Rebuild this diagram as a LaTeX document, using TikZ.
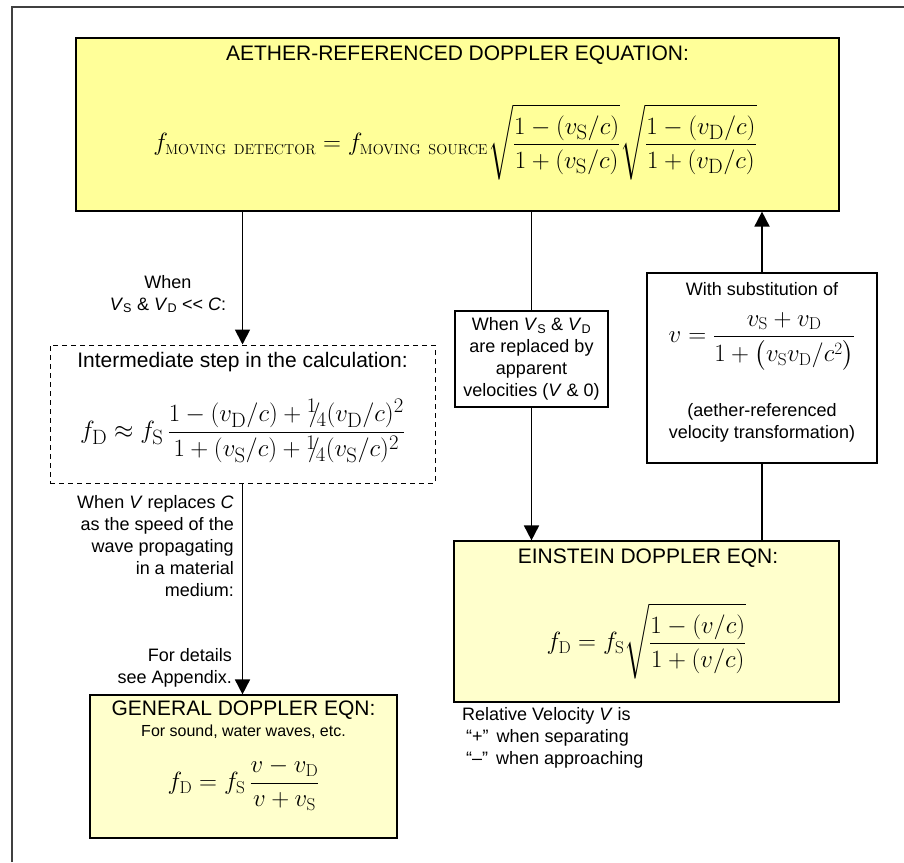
\documentclass[tikz,border=0pt]{standalone}
\usepackage{amsmath}
\usepackage[no-math]{fontspec}
\setmainfont{Liberation Sans}
\usepackage{xcolor}
\usepackage{tikz}
\usetikzlibrary{arrows.meta,positioning}
\definecolor{aetherfill}{HTML}{FFFF99}
\definecolor{eqnfill}{HTML}{FFFFCC}
\definecolor{framegray}{HTML}{404040}

\begin{document}
\begin{tikzpicture}[x=1pt, y=-1pt, font=\fontsize{18}{22}\selectfont,
 box/.style={draw=black,line width=1.2pt,inner sep=0pt},
 hdr/.style={font=\fontsize{21}{25}\selectfont,inner sep=1pt},
 lbl/.style={font=\fontsize{18}{22}\selectfont,align=center,inner sep=1pt},
 sub/.style={font=\fontsize{16}{19}\selectfont,inner sep=1pt},
 eqn/.style={font=\fontsize{28}{34}\selectfont,inner sep=0pt},
 eqs/.style={font=\fontsize{27}{32}\selectfont,inner sep=0pt},
 arr/.style={-{Triangle[length=15pt,width=15pt]},line width=1.8pt},
 lnk/.style={line width=1.8pt}]
\useasboundingbox (0,0) rectangle (904,862);
\draw[framegray,line width=1.5pt] (12,862) -- (12,7) -- (904,7);
% aether box
\node[box,fill=aetherfill,minimum width=763pt,minimum height=173pt] (aether) at (457.5,124.5) {};
\node[hdr] (aethertitle) at (457.5,55) {AETHER-REFERENCED DOPPLER EQUATION:};
\node[eqn] (aethereq) at (455,142) {$\displaystyle f_{\scriptscriptstyle\mathrm{MOVING\ DETECTOR}} = f_{\scriptscriptstyle\mathrm{MOVING\ SOURCE}}\sqrt{\frac{1-(v_{\mathrm{S}}/c)}{1+(v_{\mathrm{S}}/c)}}\sqrt{\frac{1-(v_{\mathrm{D}}/c)}{1+(v_{\mathrm{D}}/c)}}$};
% intermediate step
\node[box,line width=1pt,dash pattern=on 5pt off 4pt,minimum width=385pt,minimum height=138pt] (step) at (242.5,414) {};
\node[hdr] (steptitle) at (242.5,362) {Intermediate step in the calculation:};
\node[eqn] (stepeq) at (242.5,431) {$\displaystyle f_{\mathrm{D}} \approx f_{\mathrm{S}}\,\frac{1-(v_{\mathrm{D}}/c)+{}^{1}\!\!/\!_{4}(v_{\mathrm{D}}/c)^{2}}{1+(v_{\mathrm{S}}/c)+{}^{1}\!\!/\!_{4}(v_{\mathrm{S}}/c)^{2}}$};
% general doppler
\node[box,fill=eqnfill,minimum width=307pt,minimum height=143pt] (general) at (243.5,766.5) {};
\node[hdr] (gentitle) at (243.5,710) {GENERAL DOPPLER EQN:};
\node[sub] (gensub) at (243.5,732) {For sound, water waves, etc.};
\node[eqs] (geneq) at (243.5,784) {$\displaystyle f_{\mathrm{D}} = f_{\mathrm{S}}\,\frac{v-v_{\mathrm{D}}}{v+v_{\mathrm{S}}}$};
% einstein doppler
\node[box,fill=eqnfill,minimum width=385pt,minimum height=161pt] (einstein) at (646.5,621.5) {};
\node[hdr] (einsteintitle) at (648,558) {EINSTEIN DOPPLER EQN:};
\node[eqs] (einsteineq) at (646.5,641) {$\displaystyle f_{\mathrm{D}} = f_{\mathrm{S}}\sqrt{\frac{1-(v/c)}{1+(v/c)}}$};
% velocity transformation
\node[box,fill=white,minimum width=230pt,minimum height=190pt] (subst) at (762,368) {};
\node[lbl] (substtitle) at (762,289) {With substitution of};
\node[eqs] (substeq) at (762,341) {$\displaystyle v = \frac{v_{\mathrm{S}}+v_{\mathrm{D}}}{1+\bigl(v_{\mathrm{S}}v_{\mathrm{D}}/c^{2}\bigr)}$};
\node[lbl] (substnote) at (762,423) {(aether-referenced\\velocity transformation)};
% apparent velocities
\node[box,fill=white,minimum width=153pt,minimum height=96pt,lbl] (apparent) at (531.5,359)
 {When \textit{V}\textsubscript{S} \& \textit{V}\textsubscript{D}\\are replaced by\\apparent\\velocities (\textit{V} \& 0)};
% side labels
\node[lbl] (slow) at (168,294) {When\\\textit{V}\textsubscript{S} \& \textit{V}\textsubscript{D} <{}< \textit{C}:};
\node[lbl,align=right,anchor=east] (medium) at (235,546) {When \textit{V} replaces \textit{C}\\as the speed of the\\wave propagating\\in a material\\medium:};
\node[lbl,align=right,anchor=east] (details) at (233,668) {For details\\see Appendix.};
\node[lbl,align=left,anchor=north west,inner sep=0pt] (relvel) at (462,707) {Relative Velocity \textit{V} is\\\hspace*{4pt}“+”\hspace*{8pt}when separating\\\hspace*{4pt}“–”\hspace*{8pt}when approaching};
% connectors
\draw[arr] (aether.south -| step.north) -- (step.north);
\draw[arr] (step.south) -- (step.south |- general.north);
\draw[lnk] (aether.south -| apparent.north) -- (apparent.north);
\draw[arr] (apparent.south) -- (apparent.south |- einstein.north);
\draw[lnk] (einstein.north -| subst.south) -- (subst.south);
\draw[arr] (subst.north) -- (subst.north |- aether.south);
\end{tikzpicture}
\end{document}
